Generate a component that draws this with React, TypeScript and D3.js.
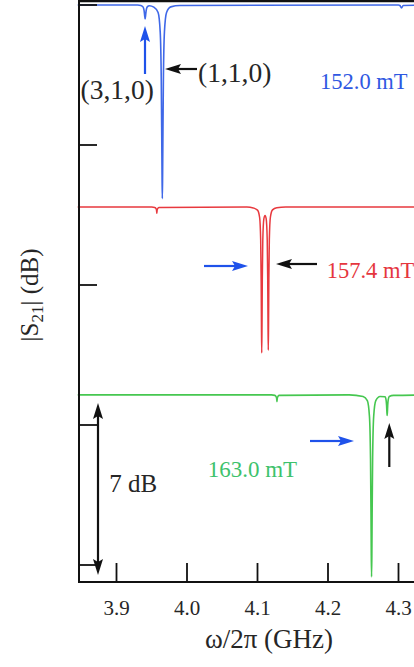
import React from 'react';
import * as d3 from 'd3';

// Frequency axis ticks (GHz) and transmission ticks (dB, unlabeled)
const freqTicks = [3.9, 4.0, 4.1, 4.2, 4.3];
const dbTicks = [0, -6, -12, -18, -24];

type Pt = [number, number];

// |S21| traces [GHz, dB], vertically offset for clarity
const trace152: Pt[] = [
  [3.845, 0], [3.930, 0], [3.9346, -0.02], [3.9376, -0.08], [3.9391, -0.23], [3.9398, -0.41],
  [3.9406, -0.60], [3.9414, -0.41], [3.9421, -0.23], [3.9436, -0.08], [3.9466, -0.03],
  [3.953, -0.09], [3.959, -0.32], [3.962, -1.15], [3.9635, -3.24], [3.9642, -5.73], [3.9646, -7.3],
  [3.965, -8.30], [3.9654, -7.3], [3.9658, -5.73], [3.9665, -3.24], [3.968, -1.15], [3.971, -0.32],
  [3.977, -0.08], [3.990, -0.02], [4.300, 0], [4.302, -0.02], [4.3043, -0.13], [4.3066, -0.02],
  [4.360, 0],
];

const trace157: Pt[] = [
  [3.845, -8.66], [3.950, -8.66], [3.9542, -8.68], [3.9562, -8.74], [3.9568, -8.80], [3.9572, -8.92],
  [3.9576, -8.80], [3.9582, -8.74], [3.9602, -8.68], [4.085, -8.66], [4.094, -8.70], [4.100, -8.79],
  [4.103, -9.10], [4.1045, -10.07], [4.1052, -11.83], [4.1056, -13.70], [4.1060, -14.91],
  [4.1064, -13.71], [4.1068, -11.81], [4.1075, -10.09], [4.1090, -9.17], [4.1107, -9.02],
  [4.1123, -9.16], [4.1138, -10.08], [4.1145, -11.78], [4.1149, -13.61], [4.1153, -14.79],
  [4.1157, -13.60], [4.1161, -11.77], [4.1168, -10.04], [4.1183, -9.09], [4.1213, -8.78],
  [4.1273, -8.69], [4.140, -8.66], [4.360, -8.66],
];

const trace163: Pt[] = [
  [3.845, -16.71], [4.120, -16.71], [4.1246, -16.73], [4.1266, -16.80], [4.1272, -16.87],
  [4.1276, -17.0], [4.1280, -16.87], [4.1286, -16.80], [4.1306, -16.73], [4.230, -16.71],
  [4.2498, -16.78], [4.2558, -16.96], [4.2588, -17.63], [4.2603, -19.44], [4.2610, -21.81],
  [4.2614, -23.60], [4.2618, -24.51], [4.2622, -23.60], [4.2626, -21.81], [4.2633, -19.44],
  [4.2648, -17.63], [4.2678, -16.96], [4.2738, -16.78], [4.2809, -16.79], [4.2824, -16.93],
  [4.2831, -17.16], [4.2835, -17.42], [4.2839, -17.59], [4.2843, -17.42], [4.2847, -17.15],
  [4.2854, -16.92], [4.2869, -16.78], [4.2929, -16.73], [4.360, -16.71],
];

const fieldLabels = ['152.0 mT', '157.4 mT', '163.0 mT'];

const W = 414;
const H = 667;
const SERIF = '"Liberation Serif", "Times New Roman", serif';
const INK = '#262626';
const ARROW_BLUE = '#1f52ea';

function Arrow({ x1, y1, x2, y2, color }: { x1: number; y1: number; x2: number; y2: number; color: string }) {
  const len = Math.hypot(x2 - x1, y2 - y1);
  const ux = (x2 - x1) / len;
  const uy = (y2 - y1) / len;
  const headL = 16;
  const headW = 5;
  const bx = x2 - ux * headL;
  const by = y2 - uy * headL;
  const px = -uy;
  const py = ux;
  const head = `M${x2},${y2} L${bx + px * headW},${by + py * headW} L${bx + ux * 3},${by + uy * 3} L${bx - px * headW},${by - py * headW} Z`;
  return (
    <g>
      <line x1={x1} y1={y1} x2={bx + ux * 4} y2={by + uy * 4} stroke={color} strokeWidth={2.2} />
      <path d={head} fill={color} />
    </g>
  );
}

function DoubleArrow({ x, y1, y2, color }: { x: number; y1: number; y2: number; color: string }) {
  const mid = (y1 + y2) / 2;
  return (
    <g>
      <Arrow x1={x} y1={mid} x2={x} y2={y1} color={color} />
      <Arrow x1={x} y1={mid} x2={x} y2={y2} color={color} />
    </g>
  );
}

export default function App() {
  const x = d3.scaleLinear().domain([3.9, 4.3]).range([116.5, 398.5]);
  const y = d3.scaleLinear().domain([0, -24]).range([5, 565]);
  const line = d3
    .line<Pt>()
    .x((d) => x(d[0]))
    .y((d) => y(d[1]))
    .curve(d3.curveMonotoneX);

  const left = 79;
  const top = 1;
  const bottom = 582;
  const tickLen = 18;

  return (
    <svg
      width={W}
      height={H}
      viewBox={`0 0 ${W} ${H}`}
      style={{ position: 'absolute', left: 0, top: 0, background: '#fff' }}
      fontFamily={SERIF}
    >
      <rect x={0} y={0} width={W} height={H} fill="#fff" />

      {/* traces */}
      <path d={line(trace152) ?? ''} fill="none" stroke="#3f68e8" strokeWidth={1.6} />
      <path d={line(trace157) ?? ''} fill="none" stroke="#e8393e" strokeWidth={1.5} />
      <path d={line(trace163) ?? ''} fill="none" stroke="#46c750" strokeWidth={1.6} />

      {/* frame */}
      <line x1={left} y1={top} x2={W + 10} y2={top} stroke="#111" strokeWidth={2.6} />
      <line x1={left} y1={0} x2={left} y2={bottom + 1} stroke="#111" strokeWidth={2} />
      <line x1={left - 1} y1={bottom} x2={W + 10} y2={bottom} stroke="#111" strokeWidth={2} />

      {/* left ticks */}
      {dbTicks.map((t) => (
        <line key={`yt${t}`} x1={left} x2={left + tickLen} y1={y(t)} y2={y(t)} stroke="#111" strokeWidth={1.8} />
      ))}

      {/* bottom ticks and labels */}
      {freqTicks.map((t) => (
        <g key={`xt${t}`}>
          <line x1={x(t)} x2={x(t)} y1={bottom} y2={bottom - 19} stroke="#111" strokeWidth={1.8} />
          <text x={x(t)} y={615} textAnchor="middle" fontSize={21} fill={INK}>
            {t.toFixed(1)}
          </text>
        </g>
      ))}

      {/* axis titles */}
      <text x={269} y={648} textAnchor="middle" fontSize={27} fill={INK}>
        ω/2π (GHz)
      </text>
      <text transform="translate(38,295) rotate(-90)" textAnchor="middle" fontSize={25} fill={INK}>
        |S<tspan fontSize={17} dy={5}>21</tspan>
        <tspan dy={-5}>| (dB)</tspan>
      </text>

      {/* 152.0 mT annotations */}
      <Arrow x1={145} y1={74} x2={145} y2={26} color={ARROW_BLUE} />
      <text x={80.5} y={99} fontSize={27.5} fill={INK}>(3,1,0)</text>
      <Arrow x1={197} y1={69} x2={165} y2={69} color="#111" />
      <text x={198} y={81.7} fontSize={27.5} fill={INK}>(1,1,0)</text>
      <text x={320} y={89.3} fontSize={22.5} fill="#2f58e2">{fieldLabels[0]}</text>

      {/* 157.4 mT annotations */}
      <Arrow x1={204} y1={266} x2={248} y2={266} color={ARROW_BLUE} />
      <Arrow x1={317} y1={264} x2={276} y2={264} color="#111" />
      <text x={326.7} y={278.3} fontSize={22.5} fill="#e5363e">{fieldLabels[1]}</text>

      {/* 163.0 mT annotations */}
      <Arrow x1={310} y1={441} x2={354} y2={441} color={ARROW_BLUE} />
      <Arrow x1={389.3} y1={467} x2={389.3} y2={423} color="#111" />
      <text x={207.7} y={476.7} fontSize={23} fill="#3dc26c">{fieldLabels[2]}</text>

      {/* scale bar */}
      <DoubleArrow x={98} y1={403} y2={575} color="#111" />
      <text x={109.3} y={491.7} fontSize={25} fill={INK}>7 dB</text>
    </svg>
  );
}
